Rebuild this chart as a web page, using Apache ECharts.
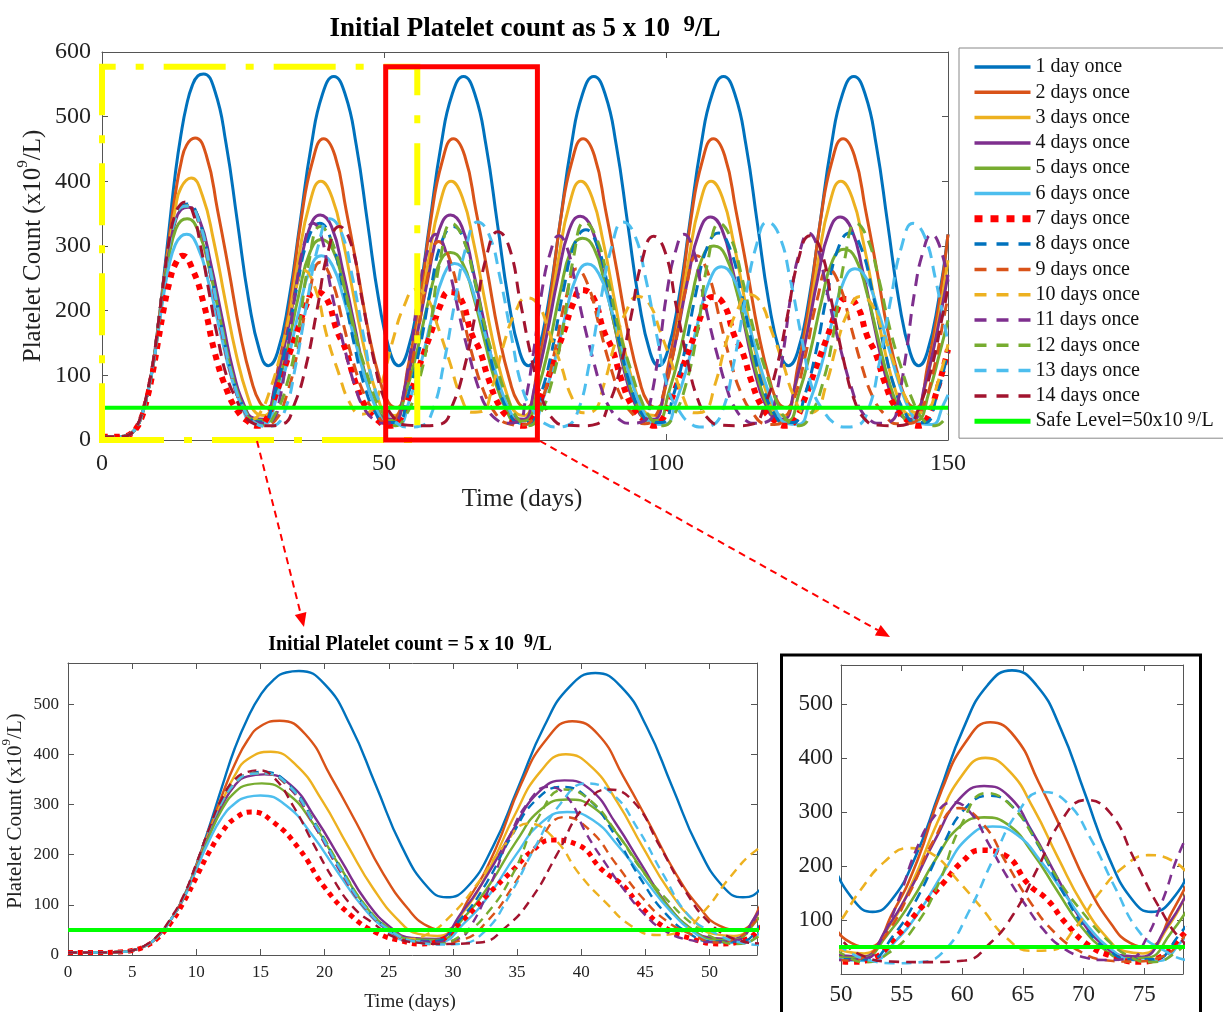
<!DOCTYPE html>
<html><head><meta charset="utf-8">
<script src="https://cdn.jsdelivr.net/npm/echarts@6/dist/echarts.min.js"></script>
<style>html,body{margin:0;padding:0;background:#fff}#c{width:1223px;height:1012px}</style>
</head><body><div id="c"></div>
<script>
// ---------------- DATA ----------------
const seriesNames = ['1 day once','2 days once','3 days once','4 days once','5 days once','6 days once','7 days once','8 days once','9 days once','10 days once','11 days once','12 days once','13 days once','14 days once'];
const safeName = 'Safe Level';
const safeLevel = [[0,50],[150,50]];

const d1 = [[0,5],[2,5],[4,6],[5,9],[6,18],[7,37],[8,70],[9,115],[10,180],[11,255],[12,335],[13,412],[14,472],[15,518],[16,548],[17,563],[18,566],[20,540],[22,458],[24,338],[26,217],[28,136],[29.5,115],
[31.1,135],[33.1,215],[35.1,335],[37.1,455],[39.1,535],[41.1,562],[43.1,535],[45.1,455],[47.1,335],[49.1,215],[51.1,135],[52.6,115],
[54.1,135],[56.1,215],[58.1,335],[60.1,455],[62.1,535],[64.1,562],[66.1,535],[68.1,455],[70.1,335],[72.1,215],[74.1,135],[75.6,115],
[77.2,135],[79.2,215],[81.2,335],[83.2,455],[85.2,535],[87.2,562],[89.2,535],[91.2,455],[93.2,335],[95.2,215],[97.2,135],[98.7,115],
[100.2,135],[102.2,215],[104.2,335],[106.2,455],[108.2,535],[110.2,562],[112.2,535],[114.2,455],[116.2,335],[118.2,215],[120.2,135],[121.7,115],
[123.3,135],[125.3,215],[127.3,335],[129.3,455],[131.3,535],[133.3,562],[135.3,535],[137.3,455],[139.3,335],[141.3,215],[143.3,135],[144.8,115],
[146.3,135],[148.3,215],[150,318]];

const d2 = [[0,5],[2,5],[4,6],[5,9],[6,18],[7,37],[8,70],[9,114],[10,178],[11,248],[12,318],[13,380],[14,428],[15,456],[16.5,467],[18.5,440],[20.5,355],[22.5,262],[24.5,165],[26.5,92],[28,58],
[29.3,50],[31.3,115],[33.3,210],[35.3,340],[37.3,430],[39.3,466],[41.3,440],[43.3,355],[45.3,262],[47.3,165],[49.3,92],[50.8,58],
[52.3,50],[54.3,115],[56.3,210],[58.3,340],[60.3,430],[62.3,466],[64.3,440],[66.3,355],[68.3,262],[70.3,165],[72.3,92],[73.8,58],
[75.3,50],[77.3,115],[79.3,210],[81.3,340],[83.3,430],[85.3,466],[87.3,440],[89.3,355],[91.3,262],[93.3,165],[95.3,92],[96.8,58],
[98.4,50],[100.4,115],[102.4,210],[104.4,340],[106.4,430],[108.4,466],[110.4,440],[112.4,355],[114.4,262],[116.4,165],[118.4,92],[119.9,58],
[121.4,50],[123.4,115],[125.4,210],[127.4,340],[129.4,430],[131.4,466],[133.4,440],[135.4,355],[137.4,262],[139.4,165],[141.4,92],[142.9,58],
[144.4,50],[146.4,115],[148.4,210],[150,318]];

const d3 = [[0,5],[2,5],[4,6],[5,9],[6,18],[7,37],[8,70],[9,113],[10,176],[11,244],[12,305],[13,358],[14,390],[15.8,405],[17.8,378],[19.8,308],[21.8,218],[23.8,132],[25.8,68],[27.3,42],
[28.8,38],[30.8,85],[32.8,170],[34.8,278],[36.8,365],[38.8,400],[40.8,375],[42.8,305],[44.8,215],[46.8,130],[48.8,68],[50.3,42],
[51.9,38],[53.9,85],[55.9,170],[57.9,278],[59.9,365],[61.9,400],[63.9,375],[65.9,305],[67.9,215],[69.9,130],[71.9,68],[73.4,42],
[74.9,38],[76.9,85],[78.9,170],[80.9,278],[82.9,365],[84.9,400],[86.9,375],[88.9,305],[90.9,215],[92.9,130],[94.9,68],[96.4,42],
[98,38],[100,85],[102,170],[104,278],[106,365],[108,400],[110,375],[112,305],[114,215],[116,130],[118,68],[119.5,42],
[121,38],[123,85],[125,170],[127,278],[129,365],[131,400],[133,375],[135,305],[137,215],[139,130],[141,68],[142.5,42],
[144,38],[146,85],[148,170],[150,278]];

const d4 = [[0,5],[2,5],[4,6],[5,9],[6,18],[7,37],[8,70],[9,113],[10,174],[11,240],[12,297],[13,338],[14,356],[15.3,360],[17.3,340],[19.3,272],[21.3,188],[23.3,105],[25.3,52],[26.8,34],
[28.7,32],[30.7,85],[32.7,160],[34.7,250],[36.7,325],[38.7,348],[40.7,330],[42.7,262],[44.7,180],[46.7,100],[48.7,50],[50.2,34],
[51.8,32],[53.8,85],[55.8,160],[57.8,250],[59.8,325],[61.8,348],[63.8,330],[65.8,262],[67.8,180],[69.8,100],[71.8,50],[73.3,34],
[74.8,32],[76.8,85],[78.8,160],[80.8,250],[82.8,324],[84.8,346],[86.8,328],[88.8,260],[90.8,180],[92.8,100],[94.8,50],[96.3,34],
[97.9,32],[99.9,85],[101.9,160],[103.9,250],[105.9,322],[107.9,345],[109.9,326],[111.9,260],[113.9,178],[115.9,100],[117.9,50],[119.4,34],
[120.9,32],[122.9,85],[124.9,160],[126.9,250],[128.9,322],[130.9,345],[132.9,326],[134.9,260],[136.9,178],[138.9,100],[140.9,50],[142.4,34],
[143.9,32],[145.9,85],[147.9,160],[150,255]];

const d5 = [[0,5],[2,5],[4,6],[5,9],[6,18],[7,37],[8,70],[9,112],[10,172],[11,236],[12,290],[13,324],[14,339],[15.1,342],[17.1,322],[19.1,262],[21.1,180],[23.1,100],[25.1,50],[26.6,32],
[28.9,30],[30.9,76],[32.9,142],[34.9,225],[36.9,291],[38.9,310],[40.9,295],[42.9,238],[44.9,164],[46.9,93],[48.9,46],[50.4,30],
[51.8,30],[53.8,72],[55.8,135],[57.8,212],[59.8,273],[61.8,290],[63.8,276],[65.8,224],[67.8,155],[69.8,88],[71.8,44],[73.3,29],
[75.2,30],[77.2,76],[79.2,143],[81.2,227],[83.2,294],[85.2,312],[87.2,297],[89.2,240],[91.2,165],[93.2,94],[95.2,47],[96.7,30],
[98.5,30],[100.5,74],[102.5,138],[104.5,218],[106.5,283],[108.5,300],[110.5,286],[112.5,231],[114.5,160],[116.5,90],[118.5,45],[120,30],
[121.6,30],[123.6,73],[125.6,137],[127.6,216],[129.6,279],[131.6,295],[133.6,281],[135.6,228],[137.6,157],[139.6,89],[141.6,45],[143.1,29],
[144.6,30],[146.6,73],[148.6,137],[150,185]];

const d6 = [[0,5],[2,5],[4,6],[5,9],[6,18],[7,37],[8,70],[9,111],[10,170],[11,228],[12,274],[13,302],[14,315],[15,318],[17,298],[19,240],[21,166],[23,95],[25,47],[26.5,28],
[28.9,26],[30.9,64],[32.9,122],[34.9,199],[36.9,264],[38.9,285],[40.9,269],[42.9,217],[44.9,152],[46.9,89],[48.9,43],[50.4,26],
[52.5,24],[54.5,61],[56.5,117],[58.5,190],[60.5,253],[62.5,273],[64.5,258],[66.5,208],[68.5,146],[70.5,85],[72.5,42],[74,26],
[76.1,24],[78.1,61],[80.1,117],[82.1,190],[84.1,252],[86.1,272],[88.1,257],[90.1,208],[92.1,145],[94.1,85],[96.1,42],[97.6,26],
[99.8,24],[101.8,60],[103.8,115],[105.8,187],[107.8,248],[109.8,268],[111.8,253],[113.8,205],[115.8,143],[117.8,84],[119.8,41],[121.3,26],
[123.5,24],[125.5,60],[127.5,114],[129.5,185],[131.5,245],[133.5,265],[135.5,250],[137.5,203],[139.5,142],[141.5,83],[143.5,41],[145,26],
[147.2,24],[149.2,55],[150,70]];

const d7 = [[0,5],[2,5],[4,6],[5,9],[6,17],[7,34],[8,64],[9,105],[10,155],[11,205],[12,245],[13,272],[14.3,285],[16,265],[18,212],[20,135],[22,80],[24,45],[26,28],[27.5,22],
[28.7,26],[30.7,68],[32.7,120],[34.7,170],[36.2,208],[37.7,229],[39.7,220],[41.7,168],[43.2,140],[44.7,95],[46.7,52],[48.7,32],[50.7,22],
[52.5,28],[54.5,68],[56.5,120],[58.5,170],[60,208],[61.5,229],[63.5,220],[65.5,165],[67,138],[68.5,95],[70.5,52],[72.5,32],[74.5,22],
[76,28],[78,68],[80,120],[82,170],[83.5,210],[85,232],[87,222],[89,168],[90.5,140],[92,96],[94,52],[96,32],[98,22],
[99.1,28],[101.1,66],[103.1,116],[105.1,163],[106.6,200],[108.1,221],[110.1,212],[112.1,162],[113.6,135],[115.1,92],[117.1,50],[119.1,31],[121.1,22],
[122.7,28],[124.7,66],[126.7,115],[128.7,162],[130.2,198],[131.7,218],[133.7,210],[135.7,160],[137.2,133],[138.7,91],[140.7,50],[142.7,31],[144.7,22],
[146,28],[148,75],[150,140]];

const d8 = [[0,5],[2,5],[4,6],[5,9],[6,18],[7,37],[8,70],[9,115],[10,180],[11,250],[12,305],[13,342],[14,360],[15.2,365],[17.2,340],[19.2,265],[21.2,175],[23.2,95],[25.2,48],[26.7,30],
[28.6,28],[30.6,72],[32.6,143],[34.6,238],[36.6,312],[38.6,335],[40.6,310],[42.6,240],[44.6,153],[46.6,82],[48.6,40],[50.1,27],
[52.3,27],[54.3,71],[56.3,141],[58.3,234],[60.3,308],[62.3,330],[64.3,306],[66.3,237],[68.3,151],[70.3,81],[72.3,40],[73.8,27],
[75.8,27],[77.8,70],[79.8,139],[81.8,231],[83.8,303],[85.8,325],[87.8,301],[89.8,233],[91.8,149],[93.8,80],[95.8,39],[97.3,27],
[99.3,27],[101.3,69],[103.3,137],[105.3,227],[107.3,298],[109.3,320],[111.3,297],[113.3,229],[115.3,147],[117.3,79],[119.3,39],[120.8,27],
[122.6,27],[124.6,69],[126.6,137],[128.6,227],[130.6,298],[132.6,320],[134.6,297],[136.6,229],[138.6,147],[140.6,79],[142.6,39],[144.1,27],
[146,27],[148,69],[150,137]];

const d9 = [[0,5],[2,5],[4,6],[5,9],[6,18],[7,37],[8,70],[9,115],[10,180],[11,250],[12,305],[13,342],[14,360],[15.2,362],[17.2,335],[19.2,258],[21.2,168],[23.2,92],[25.2,46],[27,28],[28.8,24],
[30.7,30],[32.7,68],[34.7,138],[36.7,225],[38.7,275],[40.7,248],[42.7,182],[44.7,116],[46.7,67],[48.7,40],[50.5,25],
[52,32],[53.7,72],[55.7,152],[57.7,250],[59.7,307],[61.7,278],[63.7,203],[65.7,130],[67.7,75],[69.7,42],[71.7,26],[74,23],
[76.2,30],[78.2,66],[80.2,134],[82.2,217],[84.2,265],[86.2,239],[88.2,175],[90.2,112],[92.2,64],[94.2,39],[96.2,25],
[97.8,32],[99.5,70],[101.5,142],[103.5,233],[105.5,285],[107.5,257],[109.5,188],[111.5,120],[113.5,69],[115.5,40],[117.5,25],
[119.2,24],[120.8,30],[122.8,66],[124.8,134],[126.8,217],[128.8,265],[130.8,239],[132.8,175],[134.8,112],[136.8,64],[138.8,39],[140.8,25],
[143.5,26],[145.5,50],[147.5,110],[149.5,200],[150,220]];

const d10 = [[0,5],[2,5],[4,6],[5,9],[6,18],[7,37],[8,70],[9,115],[10,180],[11,250],[12,305],[13,342],[14,360],[15.2,362],[17.2,335],[19.2,258],[21.2,168],[23.2,92],[25.2,46],[26.5,32],
[27.9,40],[29.9,80],[31.9,142],[33.9,215],[35.9,262],[37.9,232],[39.9,160],[41.9,105],[43.9,58],[45.9,40],
[47.6,45],[49.6,88],[51.6,155],[53.6,208],[55.6,233],[57.6,221],[59.6,174],[61.6,122],[63.6,68],[65.6,43],
[67.3,44],[69.3,85],[71.3,150],[73.3,198],[75.3,220],[77.3,210],[79.3,166],[81.3,118],[83.3,66],[85.3,42],
[87,44],[89,86],[91,151],[93,200],[95,222],[97,211],[99,167],[101,119],[103,67],[105,42],
[106.7,44],[108.7,86],[110.7,152],[112.7,202],[114.7,225],[116.7,214],[118.7,169],[120.7,120],[122.7,67],[124.7,42],
[126.4,44],[128.4,86],[130.4,151],[132.4,200],[134.4,222],[136.4,211],[138.4,167],[140.4,119],[142.4,67],[144.4,42],
[146.1,44],[148.1,86],[150,148]];

const d11 = [[0,5],[2,5],[4,6],[5,9],[6,18],[7,37],[8,70],[9,115],[10,180],[11,250],[12,305],[13,342],[14,360],[15.2,362],[17.2,335],[19.2,258],[21.2,168],[23.2,92],[25.2,46],[27,28],[28.8,26],
[30.4,32],[31.4,58],[32.9,138],[34.4,235],[35.9,305],[37.4,335],[38.9,315],[40.4,242],[41.9,182],[43.4,128],[44.9,82],[46.4,50],[48.4,30],[49.9,26],
[52.2,30],[53.2,58],[54.7,135],[56.2,230],[57.7,292],[59.2,318],[60.7,298],[62.2,240],[63.7,180],[65.2,128],[66.7,82],[68.2,50],[70.2,30],[71.7,26],
[74,30],[75,58],[76.5,135],[78,230],[79.5,290],[81,316],[82.5,296],[84,238],[85.5,178],[87,127],[88.5,81],[90,50],[92,30],[93.5,26],
[96.2,30],[97.2,58],[98.7,135],[100.2,230],[101.7,292],[103.2,318],[104.7,298],[106.2,240],[107.7,180],[109.2,128],[110.7,82],[112.2,50],[114.2,30],[115.7,26],
[118.3,30],[119.3,58],[120.8,136],[122.3,232],[123.8,294],[125.3,320],[126.8,300],[128.3,241],[129.8,181],[131.3,129],[132.8,83],[134.3,50],[136.3,30],[137.8,26],
[140.1,30],[141.1,58],[142.6,135],[144.1,230],[145.6,292],[147.1,318],[148.6,298],[150,245]];

const d12 = [[0,5],[2,5],[4,6],[5,9],[6,18],[7,37],[8,70],[9,115],[10,180],[11,250],[12,305],[13,342],[14,360],[15.2,362],[17.2,338],[19.2,265],[21.2,178],[23.2,98],[25.2,50],[27.2,26],
[28.7,22],[30.7,40],[32.7,84],[34.7,163],[36.7,276],[38.7,330],[40.7,308],[42.7,246],[44.7,170],[46.7,110],[48.7,61],[50.7,30],
[52,22],[54,40],[56,85],[58,165],[60,280],[62,335],[64,312],[66,250],[68,172],[70,112],[72,62],[74,30],
[75.6,22],[77.6,40],[79.6,85],[81.6,166],[83.6,282],[85.6,337],[87.6,314],[89.6,252],[91.6,173],[93.6,113],[95.6,62],[97.6,30],
[99.5,22],[101.5,40],[103.5,85],[105.5,165],[107.5,280],[109.5,335],[111.5,312],[113.5,250],[115.5,172],[117.5,112],[119.5,62],[121.5,30],
[123.7,22],[125.7,40],[127.7,85],[129.7,165],[131.7,280],[133.7,335],[135.7,312],[137.7,250],[139.7,172],[141.7,112],[143.7,62],[145.7,30],
[147.7,22],[150,40]];

const d13 = [[0,5],[2,5],[4,6],[5,9],[6,18],[7,37],[8,70],[9,115],[10,180],[11,250],[12,305],[13,342],[14,360],[15.2,362],[17.2,338],[19.2,262],[21.2,172],[23.2,94],[25.2,47],[27.2,26],[29.2,21],
[30.4,22],[32.4,45],[34.4,118],[36.4,215],[38.4,302],[40.4,342],[42.4,322],[44.4,252],[46.4,160],[48.4,78],[50.4,44],[52.4,25],[54.4,20],
[56.6,22],[58.6,45],[60.6,118],[62.6,215],[64.6,300],[66.6,337],[68.6,318],[70.6,250],[72.6,160],[74.6,78],[76.6,44],[78.6,25],[80.6,20],
[82.4,22],[84.4,45],[86.4,118],[88.4,215],[90.4,300],[92.4,337],[94.4,318],[96.4,250],[98.4,160],[100.4,78],[102.4,44],[104.4,25],[106.4,20],
[108,22],[110,45],[112,118],[114,215],[116,300],[118,337],[120,318],[122,250],[124,160],[126,78],[128,44],[130,25],[132,20],
[133.8,22],[135.8,45],[137.8,118],[139.8,215],[141.8,300],[143.8,335],[145.8,316],[147.8,248],[149.8,160],[150,152]];

const d14 = [[0,5],[2,5],[4,6],[5,9],[6,19],[7,39],[8,73],[9,118],[10,182],[11,252],[12,312],[13,350],[14,365],[14.8,368],[16,355],[17.6,295],[19.1,223],[20.7,150],[22.2,96],[23.8,63],[25.4,36],[27,25],[29,22],
[32.1,25],[34.1,55],[36.1,112],[38.1,200],[40.1,292],[42.1,330],[44.1,305],[46.1,218],[48.1,128],[50.1,62],[52.1,31],[54.1,23],[57,22],
[60.2,25],[62.2,55],[64.2,110],[66.2,195],[68.2,285],[70.2,322],[72.2,298],[74.2,212],[76.2,125],[78.2,60],[80.2,30],[82.2,23],[85,22],
[87.8,25],[89.8,54],[91.8,108],[93.8,191],[95.8,279],[97.8,315],[99.8,292],[101.8,208],[103.8,123],[105.8,59],[107.8,30],[109.8,23],[112.5,22],
[115.5,25],[117.5,54],[119.5,108],[121.5,191],[123.5,280],[125.5,316],[127.5,293],[129.5,208],[131.5,123],[133.5,59],[135.5,30],[137.5,23],[140.5,22],
[143,25],[145,54],[147,108],[149,191],[150,235]];

const allData = [d1,d2,d3,d4,d5,d6,d7,d8,d9,d10,d11,d12,d13,d14];

// ---------------- STYLE ----------------
const colors = ['#0072BD','#D95319','#EDB120','#7E2F8E','#77AC30','#4DBEEE','#FF0000','#0072BD','#D95319','#EDB120','#7E2F8E','#77AC30','#4DBEEE','#A2142F'];
const kinds = ['s','s','s','s','s','s','dot','dash','dash','dash','dash','dash','dash','dash'];
const FONT = 'Liberation Serif';
const AX = '#555';

const panels = [
  {xi:0, yi:0, w:3,   dash:[12,8], dotW:6,   dot:[6,6],     safeW:4},
  {xi:2, yi:2, w:2.4, dash:[9,6],  dotW:5,   dot:[5,5],     safeW:4},
  {xi:4, yi:4, w:2.6, dash:[10,7], dotW:5.5, dot:[5.5,5.5], safeW:4}
];

const series = [];
panels.forEach((p, pi) => {
  allData.forEach((d, i) => {
    const k = kinds[i];
    series.push({
      type:'line', name: seriesNames[i], xAxisIndex:p.xi, yAxisIndex:p.yi, data:d,
      symbol:'none', showSymbol:false, smooth:0.5, clip:true, silent:true, animation:false,
      lineStyle:{color:colors[i], width: k==='dot'?p.dotW:p.w, type: k==='s'?'solid':(k==='dot'?p.dot:p.dash), cap:'butt'},
      itemStyle:{color:colors[i]}, z:2
    });
  });
  const safe = {
    type:'line', name: safeName, xAxisIndex:p.xi, yAxisIndex:p.yi, data:safeLevel,
    symbol:'none', showSymbol:false, clip:true, silent:true, animation:false,
    lineStyle:{color:'#00FF00', width:p.safeW}, itemStyle:{color:'#00FF00'}, z:3
  };
  if (pi === 0) {
    safe.markArea = {
      silent:true, z:5,
      data:[
        [{coord:[0,0], itemStyle:{color:'rgba(0,0,0,0)', borderColor:'#FFFF00', borderWidth:6, borderType:[62,20,8,20]}}, {coord:[55.9,577]}],
        [{coord:[50.3,0], itemStyle:{color:'rgba(0,0,0,0)', borderColor:'#FF0000', borderWidth:5}}, {coord:[77.2,577]}]
      ]
    };
  }
  series.push(safe);
});

function xAx(grid, min, max, interval, fs, margin, pos, showLabel){
  return {type:'value', gridIndex:grid, min, max, interval, position:pos,
    axisLine:{show:true, onZero:false, lineStyle:{color:AX, width:1}},
    axisTick:{show:true, inside:true, length:6, lineStyle:{color:AX}},
    splitLine:{show:false},
    axisLabel:{show:showLabel, fontFamily:FONT, fontSize:fs, color:'#222', margin, showMaxLabel:false}};
}
function yAx(grid, min, max, interval, fs, margin, pos, showLabel, showMin){
  return {type:'value', gridIndex:grid, min, max, interval, position:pos,
    axisLine:{show:true, onZero:false, lineStyle:{color:AX, width:1}},
    axisTick:{show:true, inside:true, length:6, lineStyle:{color:AX}},
    splitLine:{show:false},
    axisLabel:{show:showLabel, fontFamily:FONT, fontSize:fs, color:'#222', margin, showMaxLabel: max===600, showMinLabel: showMin}};
}

const xAxis = [
  xAx(0, 0, 150, 50, 24, 12, 'bottom', true),
  xAx(0, 0, 150, 50, 24, 12, 'top', false),
  xAx(1, 0, 53.7, 5, 17, 9, 'bottom', true),
  xAx(1, 0, 53.7, 5, 17, 9, 'top', false),
  xAx(2, 50, 78.2, 5, 23, 9, 'bottom', true),
  xAx(2, 50, 78.2, 5, 23, 9, 'top', false)
];
xAxis[0].axisLabel.showMaxLabel = true;
const yAxis = [
  yAx(0, 0, 600, 100, 24, 11, 'left', true, true),
  yAx(0, 0, 600, 100, 24, 11, 'right', false, true),
  yAx(1, 0, 582, 100, 17, 9, 'left', true, true),
  yAx(1, 0, 582, 100, 17, 9, 'right', false, true),
  yAx(2, 0, 572, 100, 23, 8, 'left', true, false),
  yAx(2, 0, 572, 100, 23, 8, 'right', false, false)
];

function richText(x, y, text, rich, extra){
  return Object.assign({type:'text', x, y, silent:true, z:100,
    style:{text, align:'center', verticalAlign:'middle', fill:'#222', fontFamily:FONT, rich}}, extra||{});
}

const graphic = [
  richText(525, 29, '{n|Initial Platelet count as 5 x 10  }{s|9}{n|/L}', {
    n:{fontFamily:FONT, fontSize:27, fontWeight:'bold', lineHeight:30, fill:'#000'},
    s:{fontFamily:FONT, fontSize:23, fontWeight:'bold', lineHeight:4, verticalAlign:'top', fill:'#000'}}),
  richText(522, 499, '{n|Time (days)}', {n:{fontFamily:FONT, fontSize:25, lineHeight:30, fill:'#222'}}),
  richText(33, 246, '{n|Platelet Count (x10}{s|9}{n|/L)}', {
    n:{fontFamily:FONT, fontSize:25, lineHeight:34, fill:'#222'},
    s:{fontFamily:FONT, fontSize:15, lineHeight:6, verticalAlign:'top', fill:'#222'}}, {rotation:Math.PI/2}),
  richText(410, 645, '{n|Initial Platelet count = 5 x 10  }{s|9}{n|/L}', {
    n:{fontFamily:FONT, fontSize:20, fontWeight:'bold', lineHeight:24, fill:'#000'},
    s:{fontFamily:FONT, fontSize:18, fontWeight:'bold', lineHeight:6, verticalAlign:'top', fill:'#000'}}),
  richText(410, 1002, '{n|Time (days)}', {n:{fontFamily:FONT, fontSize:19, lineHeight:24, fill:'#222'}}),
  richText(15, 811, '{n|Platelet Count (x10}{s|9}{n|/L)}', {
    n:{fontFamily:FONT, fontSize:21, lineHeight:30, fill:'#222'},
    s:{fontFamily:FONT, fontSize:13, lineHeight:6, verticalAlign:'top', fill:'#222'}}, {rotation:Math.PI/2}),
  // zoom arrows
  {type:'line', silent:true, z:100, shape:{x1:257, y1:441, x2:300.6, y2:613.4}, style:{stroke:'#FF0000', lineWidth:2, lineDash:[7,5]}},
  {type:'polygon', silent:true, z:100, shape:{points:[[304,627],[306.4,612],[294.8,614.9]]}, style:{fill:'#FF0000'}},
  {type:'line', silent:true, z:100, shape:{x1:540, y1:441, x2:877.8, y2:630.2}, style:{stroke:'#FF0000', lineWidth:2, lineDash:[7,5]}},
  {type:'polygon', silent:true, z:100, shape:{points:[[890,637],[880.7,625],[874.9,635.4]]}, style:{fill:'#FF0000'}},
  // frame around right zoom panel
  {type:'rect', silent:true, z:100, shape:{x:781.5, y:655, width:419, height:370}, style:{fill:'none', stroke:'#000', lineWidth:3}}
];

// legend entries (per-item icon line styles)
const legendData = seriesNames.map((n, i) => {
  const k = kinds[i];
  return {name:n, lineStyle:{color:colors[i], width: k==='dot'?7:3.5, type: k==='s'?'solid':(k==='dot'?[8,8]:[12,10]), cap:'butt'}};
});
legendData.push({name:safeName, lineStyle:{color:'#00FF00', width:5, type:'solid'}});

const chart = echarts.init(document.getElementById('c'), null, {renderer:'canvas'});
chart.setOption({
  animation:false,
  backgroundColor:'#fff',
  grid:[
    {left:102, top:52, width:846, height:388, outerBoundsMode:'none', containLabel:false},
    {left:68, top:663, width:689, height:292, outerBoundsMode:'none', containLabel:false},
    {left:841, top:665, width:342, height:309, outerBoundsMode:'none', containLabel:false}
  ],
  xAxis, yAxis, series, graphic,
  legend:{
    show:true, orient:'vertical', left:959, top:48, padding:[9,22,7,12],
    itemWidth:56, itemHeight:14, itemGap:5.3, itemTextGap:5,
    selectedMode:false, backgroundColor:'#fff', borderColor:'#888', borderWidth:1, borderRadius:0,
    itemStyle:{color:'rgba(0,0,0,0)', borderWidth:0, opacity:0},
    data:legendData,
    formatter: name => name === safeName ? '{n|Safe Level=50x10 }{s|9}{n|/L}' : '{n|' + name + '}',
    textStyle:{fontFamily:FONT, fontSize:20, color:'#111',
      rich:{n:{fontFamily:FONT, fontSize:20, lineHeight:20, color:'#111'},
            s:{fontFamily:FONT, fontSize:16, lineHeight:8, verticalAlign:'top', color:'#111'}}}
  },
  tooltip:{show:false}
});
</script>
</body></html>
